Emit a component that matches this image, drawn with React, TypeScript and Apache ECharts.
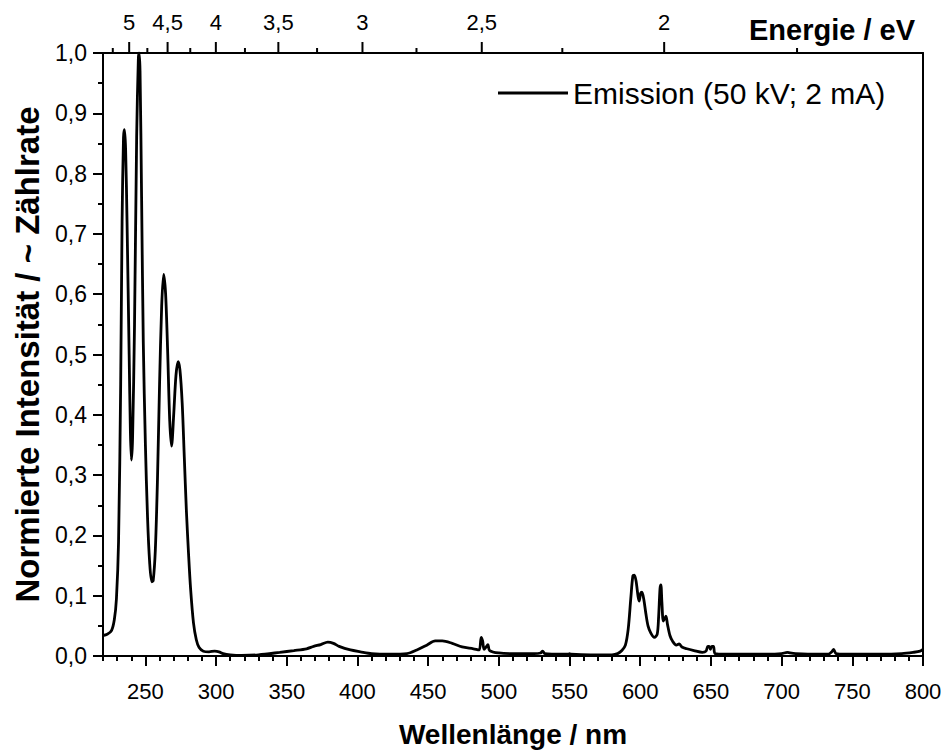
import React, { useEffect, useRef } from "react";
import * as echarts from "echarts";

const seriesName = "Emission (50 kV; 2 mA)";

const wavelengthNm = [
  220, 223, 226, 228, 229.5, 231, 232.5, 233.5, 234.5, 235.2, 236, 237, 238.5, 239.4, 240.1, 240.9, 242.3, 243.8,
  245, 245.5, 246.2, 247.3, 248.5, 250, 251.5, 253, 254.5, 255.5, 257, 258.5, 260, 261.5, 262.9, 264.3, 265.8,
  267.2, 268.5, 270, 271.6, 273.1, 274.4, 276, 277.5, 279, 280.5, 282, 284, 286, 288, 291, 295, 299, 302, 305,
  310, 318, 330, 345, 355, 364, 369, 374, 379, 383, 387, 395, 402, 410, 423, 435, 442, 449, 455, 460, 467, 474,
  482, 486, 487.5, 488.5, 489.5, 491, 492.2, 493.5, 500, 510, 525, 529.5, 531, 532.5, 545, 549, 550, 551, 565,
  580, 584, 587, 589.5, 591.5, 593.3, 594.8, 595.8, 597, 598.5, 599.2, 600.3, 601.2, 602.5, 604, 605.5, 607.5,
  610, 612, 613, 614, 614.6, 615.3, 616.3, 617.3, 618.2, 619.3, 621, 623, 625.5, 627.5, 629.5, 633, 638, 644,
  646.5, 647.8, 648.8, 649.6, 650.6, 651.8, 653, 660, 675, 690, 700, 704, 706, 710, 725, 733, 735.5, 736.8,
  738.5, 745, 770, 785, 793, 798, 800,
];

const intensity = [
  0.034, 0.036, 0.042, 0.06, 0.095, 0.19, 0.45, 0.72, 0.86, 0.873, 0.84, 0.72, 0.5, 0.37, 0.325, 0.36, 0.55, 0.86,
  0.99, 1.0, 0.97, 0.76, 0.52, 0.35, 0.23, 0.155, 0.123, 0.125, 0.175, 0.29, 0.45, 0.58, 0.633, 0.6, 0.5,
  0.39, 0.348, 0.4, 0.465, 0.488, 0.475, 0.42, 0.33, 0.24, 0.17, 0.11, 0.055, 0.027, 0.014, 0.008, 0.007, 0.008, 0.007, 0.004,
  0.002, 0.001, 0.002, 0.006, 0.009, 0.012, 0.016, 0.019, 0.023, 0.021, 0.016, 0.01, 0.007, 0.004, 0.003, 0.004, 0.01, 0.018, 0.025, 0.025, 0.021, 0.015,
  0.012, 0.01, 0.031, 0.025, 0.011, 0.015, 0.019, 0.009, 0.005, 0.004, 0.004, 0.005, 0.008, 0.004, 0.003, 0.003, 0.004, 0.003, 0.002,
  0.002, 0.004, 0.009, 0.018, 0.045, 0.095, 0.133, 0.134, 0.125, 0.098, 0.091, 0.104, 0.106, 0.094, 0.07, 0.05, 0.038,
  0.031, 0.036, 0.065, 0.112, 0.118, 0.09, 0.058, 0.062, 0.066, 0.052, 0.034, 0.024, 0.018, 0.02, 0.015, 0.012, 0.009, 0.006,
  0.008, 0.016, 0.016, 0.011, 0.016, 0.016, 0.004, 0.003, 0.003, 0.003, 0.004, 0.006, 0.005, 0.004, 0.003, 0.003, 0.007, 0.011,
  0.004, 0.003, 0.003, 0.004, 0.006, 0.008, 0.011,
];

const energyMajorTicks = [5, 4.5, 4, 3.5, 3, 2.5, 2];
const energyMinorTicks = [5.25, 4.75, 4.25, 3.75, 3.25, 2.75, 2.25, 1.75];

// energy (eV) -> wavelength position (nm) of the linked top axis
const energyToNm = (e: number) => 1166.6 / (e - 0.109);

const FONT = "'Liberation Sans', Arial, Helvetica, sans-serif";

export default function App() {
  const ref = useRef<HTMLDivElement>(null);

  useEffect(() => {
    if (!ref.current) return;
    const chart = echarts.init(ref.current, null, { renderer: "svg" });

    const lineData = wavelengthNm.map((w, i) => [w, intensity[i]]);
    const topTickData = [
      ...energyMajorTicks.map((e) => [energyToNm(e), 1, e]),
      ...energyMinorTicks.map((e) => [energyToNm(e), 0, e]),
    ];

    const axisLineStyle = { color: "#000", width: 2 };

    chart.setOption({
      animation: false,
      backgroundColor: "#fff",
      textStyle: { fontFamily: FONT },
      grid: { left: 103, right: 26, top: 53, bottom: 93, containLabel: false },
      legend: {
        data: [seriesName],
        left: 493,
        top: 73,
        icon: "rect",
        itemWidth: 70,
        itemHeight: 3,
        textStyle: { fontSize: 30, color: "#000", fontFamily: FONT },
      },
      graphic: [
        {
          type: "text",
          right: 34,
          top: 15,
          style: { text: "Energie / eV", font: `bold 29px ${FONT}`, fill: "#000" },
        },
      ],
      xAxis: [
        {
          type: "value",
          position: "bottom",
          min: 220,
          max: 800,
          interval: 10,
          axisLine: { show: true, onZero: false, lineStyle: axisLineStyle },
          axisTick: { show: true, length: 5, lineStyle: axisLineStyle },
          axisLabel: { show: false },
          splitLine: { show: false },
        },
        {
          type: "value",
          position: "top",
          min: 220,
          max: 800,
          axisLine: { show: true, onZero: false, lineStyle: axisLineStyle },
          axisTick: { show: false },
          axisLabel: { show: false },
          splitLine: { show: false },
        },
        {
          type: "value",
          position: "bottom",
          min: 220,
          max: 800,
          splitNumber: 12,
          axisLine: { show: false, onZero: false },
          axisTick: { show: true, length: 10, lineStyle: axisLineStyle },
          axisLabel: { show: true, showMinLabel: false, fontSize: 22, color: "#000", margin: 24, fontFamily: FONT },
          splitLine: { show: false },
          name: "Wellenlänge / nm",
          nameLocation: "middle",
          nameGap: 64,
          nameTextStyle: { fontSize: 28, fontWeight: "bold", color: "#000", fontFamily: FONT },
        },
      ],
      yAxis: [
        {
          type: "value",
          position: "left",
          min: 0,
          max: 1,
          interval: 0.1,
          axisLine: { show: true, onZero: false, lineStyle: axisLineStyle },
          axisTick: { show: true, length: 10, lineStyle: axisLineStyle },
          minorTick: { show: true, splitNumber: 2, length: 5, lineStyle: axisLineStyle },
          axisLabel: {
            fontSize: 23,
            color: "#000",
            margin: 16,
            fontFamily: FONT,
            formatter: (v: number) => v.toFixed(1).replace(".", ","),
          },
          splitLine: { show: false },
          name: "Normierte Intensität / ~ Zählrate",
          nameLocation: "middle",
          nameGap: 57,
          nameTextStyle: { fontSize: 33, fontWeight: "bold", color: "#000", fontFamily: FONT },
        },
        {
          type: "value",
          position: "right",
          min: 0,
          max: 1,
          axisLine: { show: true, onZero: false, lineStyle: axisLineStyle },
          axisTick: { show: false },
          axisLabel: { show: false },
          splitLine: { show: false },
        },
      ],
      series: [
        {
          name: seriesName,
          type: "line",
          xAxisIndex: 0,
          yAxisIndex: 0,
          data: lineData,
          showSymbol: false,
          smooth: 0.3,
          lineStyle: { color: "#000", width: 2.8 },
          itemStyle: { color: "#000" },
        },
        {
          name: "energyTicks",
          type: "custom",
          xAxisIndex: 1,
          yAxisIndex: 0,
          clip: false,
          silent: true,
          encode: { x: 0, y: 1 },
          data: topTickData,
          renderItem: (params: any, api: any) => {
            const x = api.coord([api.value(0), 0])[0];
            const top = params.coordSys.y;
            const major = api.value(1) === 1;
            const len = major ? 11 : 5;
            const children: any[] = [
              {
                type: "line",
                shape: { x1: x, y1: top, x2: x, y2: top - len },
                style: { stroke: "#000", lineWidth: 2 },
              },
            ];
            if (major) {
              children.push({
                type: "text",
                x,
                y: top - 20,
                style: {
                  text: String(api.value(2)).replace(".", ","),
                  fontSize: 22,
                  fontFamily: FONT,
                  fill: "#000",
                  align: "center",
                  verticalAlign: "bottom",
                },
              });
            }
            return { type: "group", children };
          },
        },
      ],
    });

    return () => chart.dispose();
  }, []);

  return <div ref={ref} style={{ position: "absolute", left: 0, top: 0, width: 949, height: 753 }} />;
}
